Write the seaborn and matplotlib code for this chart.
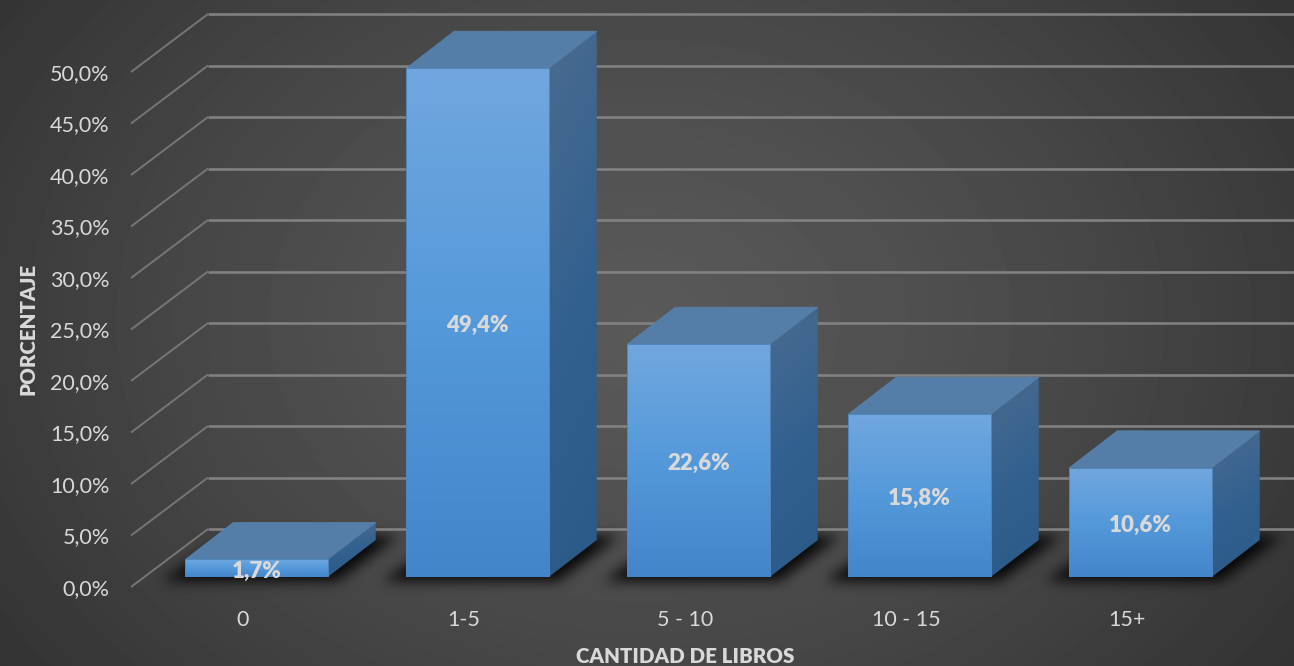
import numpy as np
import pandas as pd
import matplotlib
matplotlib.use("Agg")
import matplotlib.pyplot as plt
import matplotlib.transforms as mtrans
from matplotlib.colors import LinearSegmentedColormap as LSC
from matplotlib.patches import Polygon
import seaborn as sns

categories = ["0", "1-5", "5 - 10", "10 - 15", "15+"]
values = [1.7, 49.4, 22.6, 15.8, 10.6]
value_labels = ["1,7%", "49,4%", "22,6%", "15,8%", "10,6%"]
y_ticks = [0, 5, 10, 15, 20, 25, 30, 35, 40, 45, 50]
y_tick_labels = ["0,0%", "5,0%", "10,0%", "15,0%", "20,0%", "25,0%", "30,0%", "35,0%", "40,0%", "45,0%", "50,0%"]
x_title = "CANTIDAD DE LIBROS"
y_title = "PORCENTAJE"

W, H = 1294, 666
TXT = "#d9d9d9"
sns.set_theme(style="white")
plt.rcParams["font.family"] = ["Lato", "DejaVu Sans"]

fig = plt.figure(figsize=(W / 100, H / 100), dpi=100)

# layout in pixels
px_left, px_bottom, px_top = 131, 577, 15
cat_step, unit = 221.0, 10.3
cat0 = 256.5
depth_x, depth_y = 48.0, 37.0

ax = fig.add_axes([px_left / W, (H - px_bottom) / H, (W - px_left) / W, (px_bottom - px_top) / H])
ax.patch.set_alpha(0)
df = pd.DataFrame({"cat": categories, "pct": values})
sns.barplot(data=df, x="cat", y="pct", ax=ax, width=142.5 / cat_step, color="#4a8ad0", saturation=1, zorder=3)
ax.set_xlim((px_left - cat0) / cat_step, (W - cat0) / cat_step)
ax.set_ylim(0, (px_bottom - px_top) / unit)
dx = 1 / cat_step   # data units per pixel
dy = 1 / unit

# background + floor shadows
yy, xx = np.mgrid[0:H, 0:W]
t = np.sqrt(((xx - 640) / 900.0) ** 2 + ((yy - 320) / 680.0) ** 2)
bg = np.clip(0x59 - (0x59 - 0x2c) * t ** 1.3, 0x28, 0x59)

shadow = np.zeros((H, W))
for p in ax.patches:
    bb = p.get_bbox()
    (x0, _), (x1, _) = ax.transData.transform([(bb.x0, 0), (bb.x1, 0)])
    for row in range(536, 581):
        f = (580 - row) / 44.0
        a = int(x0 - 22 + f * 66)
        b = int(x1 + 10 + f * 60)
        shadow[row, a:b] = 1
g = np.arange(-18, 19)
kern = np.exp(-g ** 2 / (2 * 6.5 ** 2))
kern /= kern.sum()
shadow = np.apply_along_axis(lambda v: np.convolve(v, kern, mode="same"), 0, shadow)
shadow = np.apply_along_axis(lambda v: np.convolve(v, kern, mode="same"), 1, shadow)
bg = bg * (1 - 0.9 * shadow)

ax_bg = fig.add_axes([0, 0, 1, 1], zorder=-1)
ax_bg.imshow(bg, cmap="gray", vmin=0, vmax=255, aspect="auto", interpolation="bilinear")
ax_bg.axis("off")

# gridlines: left wall + back wall
for v in y_ticks:
    xl = ax.get_xlim()
    yf = v - 10 * dy
    yb = v + 48 * dy
    ax.plot([xl[0], xl[0] + 77 * dx], [yf, yb], color="#767676", lw=1.4, clip_on=False, zorder=1, solid_capstyle="butt")
    ax.plot([xl[0] + 77 * dx, xl[1]], [yb, yb], color="#818181", lw=1.9, clip_on=False, zorder=1, solid_capstyle="butt")

# bar faces
front = LSC.from_list("front", ["#4385c9", "#5499da", "#71a7de"])
side = LSC.from_list("side", ["#2b5a88", "#33618f", "#4a6b90"])
ramp = np.linspace(1, 0, 256).reshape(-1, 1)

for p in list(ax.patches):
    bb = p.get_bbox()
    x0, x1, h = bb.x0, bb.x1, bb.y1
    ddx, ddy = depth_x * dx, depth_y * dy
    p.set_facecolor("none")
    p.set_edgecolor("#4f86bd")
    p.set_linewidth(0.7)
    p.set_zorder(3.5)
    im = ax.imshow(ramp, cmap=front, extent=(x0, x1, 0, h), aspect="auto", zorder=3, vmin=0, vmax=1)
    im.set_clip_path(p)
    # side face (diagonal ramp)
    u, w = np.meshgrid(np.linspace(0, 1, 64), np.linspace(1, 0, 256))
    pts = [(x1, 0), (x1 + ddx, ddy), (x1 + ddx, h + ddy), (x1, h)]
    poly = Polygon(pts, closed=True, transform=ax.transData, fc="none", ec="none", zorder=3.1, clip_on=False)
    ax.add_patch(poly)
    im2 = ax.imshow(0.85 * w + 0.15 * (1 - u), cmap=side, extent=(x1, x1 + ddx, 0, h + ddy),
                    aspect="auto", zorder=3, vmin=0, vmax=1)
    im2.set_clip_path(poly)
    # top face
    pts = [(x0, h), (x1, h), (x1 + ddx, h + ddy), (x0 + ddx, h + ddy)]
    poly2 = Polygon(pts, closed=True, transform=ax.transData, fc="#547ea8", ec="#5a83ac", lw=0.5, zorder=3.2, clip_on=False)
    ax.add_patch(poly2)

ax.set_xlim((px_left - cat0) / cat_step, (W - cat0) / cat_step)
ax.set_ylim(0, (px_bottom - px_top) / unit)

anns = ax.bar_label(ax.containers[0], labels=value_labels, label_type="center", color=TXT, fontsize=16, fontweight="heavy", zorder=6)
off_lbl = mtrans.ScaledTranslation(0, -2.5 / 100, fig.dpi_scale_trans)
for a in anns:
    a.xyann = (a.xyann[0], a.xyann[1] - 2.2)

# axes text
sns.despine(ax=ax, left=True, bottom=True, top=True, right=True)
ax.set_yticks(y_ticks)
ax.set_yticklabels(y_tick_labels)
ax.tick_params(axis="y", length=0, pad=15.5, labelsize=15.5, labelcolor=TXT)
ax.tick_params(axis="x", length=0, pad=23.5, labelsize=15.5, labelcolor=TXT)
off_y = mtrans.ScaledTranslation(0, -10 / 100, fig.dpi_scale_trans)
off_x = mtrans.ScaledTranslation(-13.5 / 100, 0, fig.dpi_scale_trans)
for l in ax.get_yticklabels():
    l.set_transform(l.get_transform() + off_y)
for l in ax.get_xticklabels():
    l.set_transform(l.get_transform() + off_x)
ax.set_xlabel(x_title, color=TXT, fontsize=14.8, fontweight="heavy")
ax.set_ylabel(y_title, color=TXT, fontsize=14.8, fontweight="heavy")
ax.xaxis.set_label_coords(685 / W, 1 - 656.5 / H, transform=fig.transFigure)
ax.xaxis.label.set_va("center")
ax.yaxis.set_label_coords(28 / W, 1 - 329 / H, transform=fig.transFigure)
ax.yaxis.label.set_va("center")

fig.savefig("out.png", dpi=100)
